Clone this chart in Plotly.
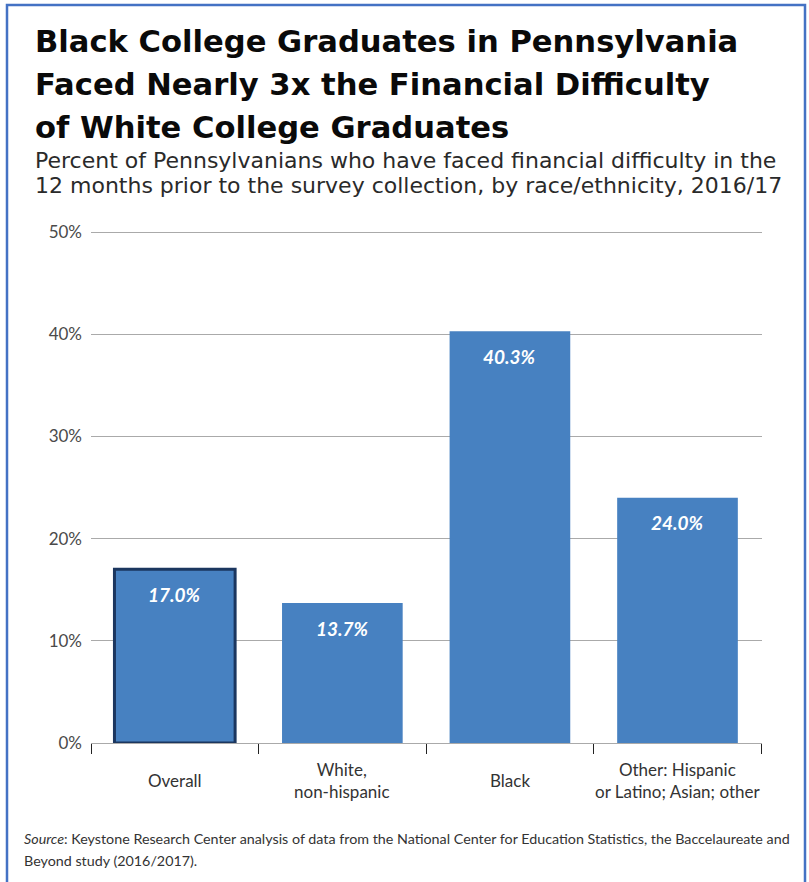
import plotly.graph_objects as go

# Survey results: share facing financial difficulty, by race/ethnicity
categories = ["Overall", "White,<br>non-hispanic", "Black", "Other: Hispanic<br>or Latino; Asian; other"]
values = [17.0, 13.7, 40.3, 24.0]
y_ticks = [0, 10, 20, 30, 40, 50]
y_tick_labels = ["0%", "10%", "20%", "30%", "40%", "50%"]

title_lines = [
    "Black College Graduates in Pennsylvania",
    "Faced Nearly 3x the Financial Difficulty",
    "of White College Graduates",
]
subtitle_lines = [
    "Percent of Pennsylvanians who have faced financial difficulty in the",
    "12 months prior to the survey collection, by race/ethnicity, 2016/17",
]
source_lines = [
    "<i>Source</i>: Keystone Research Center analysis of data from the National Center for Education Statistics, the Baccelaureate and",
    "Beyond study (2016/2017).",
]

W, H = 809, 882
L, R, T, B = 91, 47, 222, 139
PW, PH = W - L - R, H - T - B
Y_MAX = 51  # a little headroom so the 50% gridline is drawn

BAR = "#4781C1"
OUTLINE = "#1B365F"
FONT = "Lato"
HEAD_FONT = "DejaVu Sans"
SUB_FONT = "DejaVu Sans"


def px_x(px):
    return (px - L) / PW


def px_y(py):
    return (H - B - py) / PH


fig = go.Figure()
fig.add_trace(go.Bar(
    x=categories,
    y=values,
    marker=dict(
        color=BAR,
        line=dict(color=[OUTLINE, BAR, BAR, BAR], width=[3, 0, 0, 0]),
    ),
    hoverinfo="skip",
))

annotations = []
# value labels near the top of each bar
for c, v in zip(categories, values):
    annotations.append(dict(
        x=c, y=v, xref="x", yref="y", yshift=-25,
        text=f"{v:.1f}%", showarrow=False,
        font=dict(family=FONT, size=19, color="white", style="italic", weight="bold"),
    ))
# category labels, vertically centred under each bar
for c in categories:
    annotations.append(dict(
        x=c, y=0, xref="x", yref="y", yshift=-37, yanchor="middle",
        text=c, showarrow=False,
        font=dict(family=FONT, size=17, color="#333333"),
    ))

for i, line in enumerate(title_lines):
    annotations.append(dict(
        x=px_x(33), y=px_y(42 + i * 42.5), xref="paper", yref="paper",
        xanchor="left", yanchor="middle", text=line, showarrow=False,
        font=dict(family=HEAD_FONT, size=30.6, color="#0A0A0A", weight="bold"),
    ))
for i, line in enumerate(subtitle_lines):
    annotations.append(dict(
        x=px_x(33), y=px_y(160 + i * 25.7), xref="paper", yref="paper",
        xanchor="left", yanchor="middle", text=line, showarrow=False,
        font=dict(family=SUB_FONT, size=22, color="#2A2A2A"),
    ))
for i, line in enumerate(source_lines):
    annotations.append(dict(
        x=px_x(22), y=px_y(838 + i * 22), xref="paper", yref="paper",
        xanchor="left", yanchor="middle", text=line, showarrow=False,
        font=dict(family=FONT, size=14.3, color="#333333"),
    ))

fig.update_layout(
    width=W, height=H,
    margin=dict(l=L, r=R, t=T, b=B),
    paper_bgcolor="white", plot_bgcolor="white",
    bargap=0.28,
    showlegend=False,
    font=dict(family=FONT),
    annotations=annotations,
    shapes=[dict(
        type="rect", xref="paper", yref="paper",
        x0=px_x(7), x1=px_x(805), y0=px_y(900), y1=px_y(5),
        line=dict(color="#4472C4", width=2.5), fillcolor="rgba(0,0,0,0)", layer="below",
    )],
)
fig.update_yaxes(
    range=[0, Y_MAX], tickvals=y_ticks, ticktext=y_tick_labels,
    showgrid=True, gridcolor="#AAAAAA", gridwidth=1,
    zeroline=False, showline=False, ticks="",
    tickfont=dict(family=FONT, size=17, color="#4A4A4A"),
    ticklabelstandoff=8,
)
fig.update_xaxes(
    showline=True, linecolor="#AAAAAA", linewidth=1,
    ticks="outside", tickson="boundaries", ticklen=10, tickcolor="#222222",
    showticklabels=False,
)

fig.write_html("out.html")
